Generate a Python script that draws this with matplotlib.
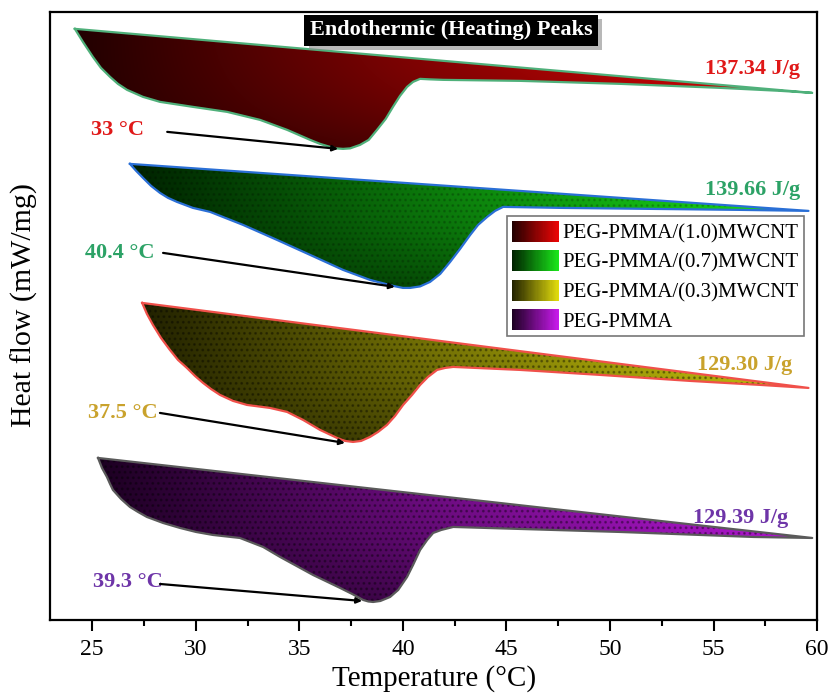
import numpy as np
import matplotlib.pyplot as plt
import matplotlib.patheffects as pe
from matplotlib.patches import Patch, Rectangle
from matplotlib.legend_handler import HandlerBase
from matplotlib.ticker import MultipleLocator

plt.rcParams['font.family'] = ['Liberation Serif', 'DejaVu Serif']
plt.rcParams['hatch.linewidth'] = 1.2

# DSC heating curves (temperature in degC, heat flow in arbitrary mW/mg, shifted)
t_10 = [24.16, 24.55, 25.03, 25.42, 25.86, 26.24, 26.68, 27.45, 28.27, 29.86, 31.51, 33.10,
        34.41, 35.52, 36.00, 36.48, 36.77, 37.11, 37.45, 37.93, 38.35, 38.75, 39.17, 39.52,
        39.86, 40.20, 40.49, 40.83, 41.31, 41.94, 45.66, 50.49, 55.32, 58.22, 59.76]
hf_10 = [5.91, 5.78, 5.63, 5.52, 5.43, 5.36, 5.30, 5.23, 5.18, 5.13, 5.08, 5.00,
         4.90, 4.80, 4.76, 4.73, 4.715, 4.71, 4.715, 4.75, 4.80, 4.90, 5.01, 5.13,
         5.24, 5.33, 5.38, 5.41, 5.405, 5.40, 5.39, 5.36, 5.32, 5.29, 5.27]

t_07 = [26.82, 27.12, 27.45, 27.84, 28.27, 28.66, 29.09, 29.86, 30.69, 32.28, 33.92, 35.52,
        37.11, 38.41, 39.53, 40.00, 40.35, 40.83, 41.31, 41.80, 42.28, 42.76, 43.25, 43.63,
        44.07, 44.45, 44.84, 47.60, 51.94, 56.29, 59.58]
hf_07 = [4.56, 4.49, 4.42, 4.34, 4.27, 4.22, 4.18, 4.12, 4.08, 3.95, 3.80, 3.65,
         3.50, 3.40, 3.34, 3.32, 3.32, 3.335, 3.38, 3.46, 3.58, 3.71, 3.85, 3.95,
         4.03, 4.09, 4.13, 4.12, 4.11, 4.10, 4.09]

t_03 = [27.41, 27.64, 27.93, 28.32, 28.75, 29.14, 29.57, 29.96, 30.35, 30.73, 31.17, 31.80,
        32.47, 33.58, 34.41, 35.18, 36.00, 36.82, 37.21, 37.59, 37.98, 38.41, 38.80, 39.23,
        39.62, 40.01, 40.44, 40.83, 41.21, 41.65, 42.04, 42.43, 45.66, 49.53, 53.87, 57.26, 59.58]
hf_03 = [3.17, 3.06, 2.95, 2.82, 2.70, 2.60, 2.52, 2.44, 2.37, 2.31, 2.25, 2.19,
         2.15, 2.12, 2.08, 2.00, 1.90, 1.82, 1.79, 1.78, 1.79, 1.83, 1.88, 1.95,
         2.04, 2.15, 2.25, 2.35, 2.43, 2.50, 2.52, 2.53, 2.50, 2.45, 2.39, 2.35, 2.32]

t_00 = [25.28, 25.47, 25.71, 25.86, 26.00, 26.39, 26.82, 27.21, 27.64, 28.42, 29.24, 30.01,
        30.83, 32.13, 33.25, 34.07, 35.66, 36.97, 37.55, 38.08, 38.33, 38.56, 38.91, 39.38,
        39.77, 40.20, 40.49, 40.83, 41.17, 41.46, 41.85, 42.43, 45.66, 50.49, 54.35, 56.91, 59.76]
hf_00 = [1.62, 1.52, 1.43, 1.36, 1.30, 1.21, 1.13, 1.08, 1.03, 0.97, 0.92, 0.88,
         0.85, 0.82, 0.73, 0.63, 0.45, 0.32, 0.26, 0.20, 0.185, 0.18, 0.19, 0.23,
         0.30, 0.43, 0.55, 0.70, 0.80, 0.87, 0.90, 0.93, 0.91, 0.88, 0.85, 0.83, 0.82]

labels = ["PEG-PMMA/(1.0)MWCNT", "PEG-PMMA/(0.7)MWCNT", "PEG-PMMA/(0.3)MWCNT", "PEG-PMMA"]
enthalpy = ["137.34 J/g", "139.66 J/g", "129.30 J/g", "129.39 J/g"]
enthalpy_pos = [(59.19, 5.51), (59.19, 4.30), (58.80, 2.55), (58.61, 1.02)]
peak_text = ["33 °C", "40.4 °C", "37.5 °C", "39.3 °C"]
peak_text_pos = [(26.22, 4.90), (26.34, 3.67), (26.48, 2.07), (26.70, 0.38)]
arrow_from = [(28.62, 4.88), (28.42, 3.67), (28.27, 2.07), (28.27, 0.36)]
arrow_to = [(36.87, 4.71), (39.61, 3.33), (37.20, 1.77), (38.03, 0.19)]

curves = [(t_10, hf_10), (t_07, hf_07), (t_03, hf_03), (t_00, hf_00)]
dark = [(0.13, 0.0, 0.0), (0.0, 0.13, 0.0), (0.13, 0.13, 0.0), (0.11, 0.0, 0.13)]
bright = [(0.92, 0.02, 0.02), (0.1, 0.9, 0.1), (0.88, 0.86, 0.05), (0.78, 0.1, 0.92)]
edge = ['#4fb07a', '#2a6fd6', '#f0504a', '#5a5a5a']
text_col = ['#e01818', '#2ca266', '#c9a22c', '#6e35a8']
dots = [0.0, 0.18, 0.35, 0.35]


def gradient(d, b, nx=300, ny=120):
    tx = np.linspace(0, 1, nx)[None, :]
    sy = np.linspace(0, 1, ny)[:, None]
    f = np.clip(tx * 1.05, 0, 1) * (1 - 0.55 * (1 - sy) ** 2)
    d = np.array(d)[None, None, :]
    b = np.array(b)[None, None, :]
    return d + (b - d) * f[..., None]


class GradientHandler(HandlerBase):
    def __init__(self, d, b):
        super().__init__()
        self.d = np.array(d)
        self.b = np.array(b)

    def create_artists(self, legend, orig_handle, xdescent, ydescent,
                       width, height, fontsize, trans):
        n = 40
        arts = []
        for i in range(n):
            f = i / (n - 1)
            c = self.d + (self.b - self.d) * f
            arts.append(Rectangle((-xdescent + i * width / n, -ydescent),
                                  width / n * 1.08, height, facecolor=c,
                                  edgecolor='none', transform=trans))
        return arts


fig = plt.figure(figsize=(8.33, 6.97), dpi=100)
ax = fig.add_axes([0.060, 0.1105, 0.921, 0.8725])

for i, (t, hf) in enumerate(curves):
    poly = ax.fill(t, hf, facecolor='none', edgecolor='none', zorder=2)[0]
    img = ax.imshow(gradient(dark[i], bright[i]), origin='lower', aspect='auto',
                    extent=[min(t), max(t), min(hf), max(hf)], zorder=2,
                    interpolation='bilinear')
    img.set_clip_path(poly)
    if dots[i] > 0:
        ax.fill(t, hf, facecolor='none', edgecolor=(0, 0, 0, dots[i]),
                hatch='...', lw=0, zorder=3)
    ax.plot(list(t) + [t[0]], list(hf) + [hf[0]], color=edge[i], lw=1.6,
            solid_joinstyle='round', zorder=4)
    ax.text(*enthalpy_pos[i], enthalpy[i], color=text_col[i], fontsize=16,
            fontweight='bold', ha='right', va='center', zorder=5)
    ax.text(*peak_text_pos[i], peak_text[i], color=text_col[i], fontsize=16,
            fontweight='bold', ha='center', va='center', zorder=5)
    ax.annotate('', xy=arrow_to[i], xytext=arrow_from[i], zorder=5,
                arrowprops=dict(arrowstyle='-|>', color='black', lw=1.6,
                                mutation_scale=8, shrinkA=0, shrinkB=0))

ax.set_xlim(22.96, 60.0)
ax.set_ylim(0, 6.08)

# title box with a soft shadow
title = ax.text(0.523, 0.970, "Endothermic (Heating) Peaks", transform=ax.transAxes,
                fontsize=16, fontweight='bold', color='white', ha='center', va='center',
                bbox=dict(boxstyle='square,pad=0.25', facecolor='black', edgecolor='none'),
                zorder=6)
title.get_bbox_patch().set_path_effects([
    pe.SimplePatchShadow(offset=(3, -3), shadow_rgbFace='#8a8a8a', alpha=0.6),
    pe.Normal()])

handles = [Patch(label=l) for l in labels]
hmap = {h: GradientHandler(dark[i], bright[i]) for i, h in enumerate(handles)}
leg = ax.legend(handles=handles, handler_map=hmap, loc='upper left',
                bbox_to_anchor=(0.596, 0.664), fontsize=15, frameon=True,
                fancybox=False, edgecolor='#555555', handlelength=2.25,
                handleheight=1.2, handletextpad=0.2, labelspacing=0.32,
                borderpad=0.22, borderaxespad=0)
leg.get_frame().set_linewidth(1.2)
leg.set_zorder(7)

for s in ax.spines.values():
    s.set_linewidth(1.6)
ax.set_yticks([])
ax.xaxis.set_major_locator(MultipleLocator(5))
ax.xaxis.set_minor_locator(MultipleLocator(2.5))
ax.tick_params(axis='x', which='major', direction='out', length=8, width=1.5,
               labelsize=17, pad=6)
ax.tick_params(axis='x', which='minor', direction='out', length=4.5, width=1.5)
ax.set_xlabel("Temperature (°C)", fontsize=21, labelpad=3)
ax.set_ylabel("Heat flow (mW/mg)", fontsize=21.5)
ax.yaxis.set_label_coords(-0.016, 0.518)

fig.savefig("out.png", dpi=100)
